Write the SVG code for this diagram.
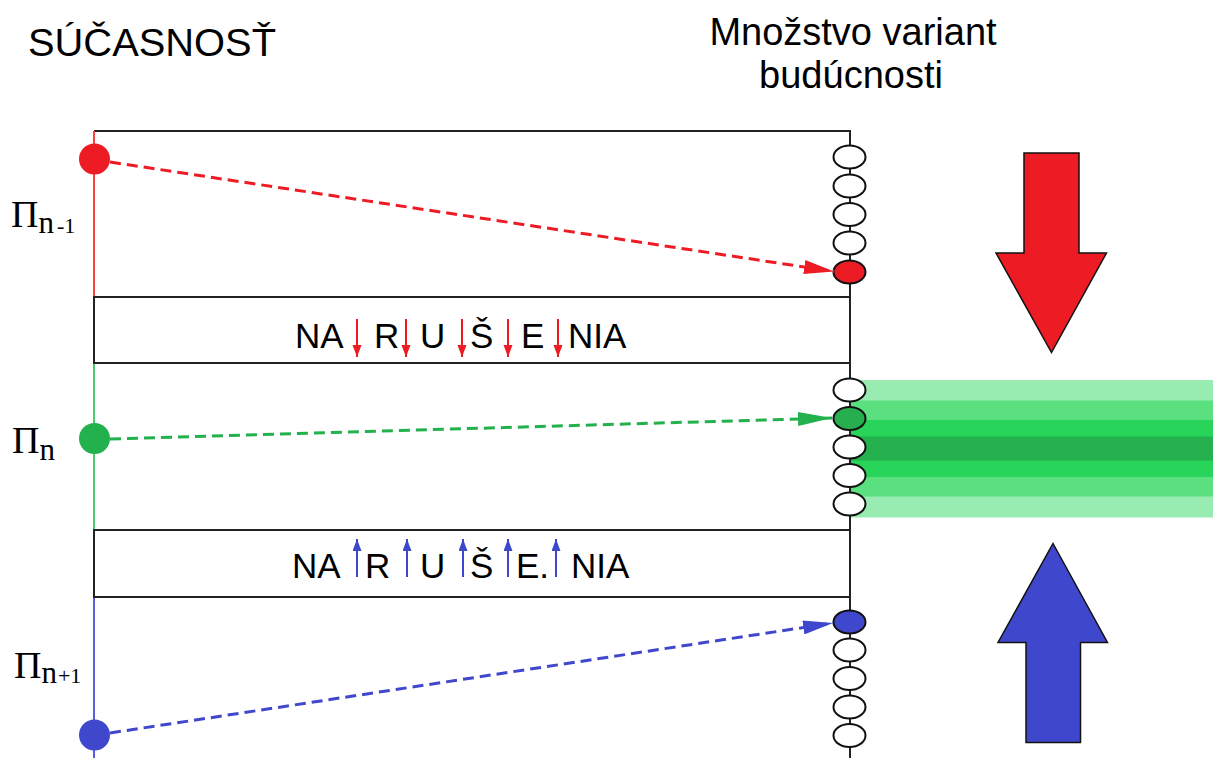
<svg xmlns="http://www.w3.org/2000/svg" width="1213" height="758" viewBox="0 0 1213 758">
<style>
.sans{font-family:"Liberation Sans",Arial,sans-serif;fill:#000}
.serif{font-family:"Liberation Serif","Times New Roman",serif;fill:#000}
.frame{fill:none;stroke:#222;stroke-width:2}
.ell{fill:#fff;stroke:#111;stroke-width:2}
.dash{fill:none;stroke-width:3;stroke-dasharray:11 6}
.big{stroke:#111;stroke-width:1.5}
.sr{stroke:#ED1C24;stroke-width:2}
.sb{stroke:#3F48CC;stroke-width:2}
</style>
<defs>
<marker id="hr" markerUnits="userSpaceOnUse" markerWidth="32" markerHeight="14" refX="30" refY="7" orient="auto"><path d="M0,0 L30,7 L0,14 Z" fill="#ED1C24"/></marker>
<marker id="hg" markerUnits="userSpaceOnUse" markerWidth="36" markerHeight="14" refX="34" refY="7" orient="auto"><path d="M0,0 L34,7 L0,14 Z" fill="#22B14C"/></marker>
<marker id="hb" markerUnits="userSpaceOnUse" markerWidth="32" markerHeight="14" refX="30" refY="7" orient="auto"><path d="M0,0 L30,7 L0,14 Z" fill="#3F48CC"/></marker>
<marker id="sr" markerUnits="userSpaceOnUse" markerWidth="10" markerHeight="10" refX="12" refY="4.5" orient="auto"><path d="M0,0 L12,4.5 L0,9 Z" fill="#ED1C24"/></marker>
<marker id="sb" markerUnits="userSpaceOnUse" markerWidth="10" markerHeight="10" refX="12" refY="4.5" orient="auto"><path d="M0,0 L12,4.5 L0,9 Z" fill="#3F48CC"/></marker>
</defs>

<g id="titles">
<text class="sans" x="28" y="56" font-size="38" textLength="248" lengthAdjust="spacingAndGlyphs">SÚČASNOSŤ</text>
<text class="sans" x="853" y="45" font-size="38" text-anchor="middle">Množstvo variant</text>
<text class="sans" x="851" y="88" font-size="38" text-anchor="middle">budúcnosti</text>
</g>

<g id="bands">
<rect x="851" y="380" width="362" height="21" fill="#98EBB1"/>
<rect x="851" y="400.5" width="362" height="20" fill="#5AE07F"/>
<rect x="851" y="420" width="362" height="17" fill="#29D45A"/>
<rect x="851" y="436.5" width="362" height="24.5" fill="#24B14E"/>
<rect x="851" y="460.5" width="362" height="17" fill="#29D45A"/>
<rect x="851" y="477" width="362" height="20" fill="#5AE07F"/>
<rect x="851" y="496.5" width="362" height="21" fill="#98EBB1"/>
</g>

<g id="frame">
<line class="frame" x1="94" y1="131" x2="851" y2="131"/>
<line class="frame" x1="850" y1="131" x2="850" y2="758"/>
<line x1="94" y1="131" x2="94" y2="297" stroke="#FF4040" stroke-width="2"/>
<line x1="94" y1="363" x2="94" y2="530" stroke="#4CCB6B" stroke-width="2"/>
<line x1="94" y1="597" x2="94" y2="758" stroke="#5A5FE0" stroke-width="2"/>
</g>

<g id="box1">
<rect class="frame" x="94" y="297" width="756" height="66" fill="#fff"/>
<text class="sans" font-size="35" y="348"><tspan x="295">NA</tspan><tspan x="374">R</tspan><tspan x="420">U</tspan><tspan x="470">Š</tspan><tspan x="521">E</tspan><tspan x="568">NIA</tspan></text>
<line class="sr" x1="357" y1="319" x2="357" y2="357" marker-end="url(#sr)"/>
<line class="sr" x1="406" y1="319" x2="406" y2="357" marker-end="url(#sr)"/>
<line class="sr" x1="462" y1="319" x2="462" y2="357" marker-end="url(#sr)"/>
<line class="sr" x1="508" y1="319" x2="508" y2="357" marker-end="url(#sr)"/>
<line class="sr" x1="558" y1="319" x2="558" y2="357" marker-end="url(#sr)"/>
</g>

<g id="box2">
<rect class="frame" x="94" y="530" width="756" height="67" fill="#fff"/>
<text class="sans" font-size="35" y="578"><tspan x="292">NA</tspan><tspan x="365">R</tspan><tspan x="420">U</tspan><tspan x="470">Š</tspan><tspan x="516">E.</tspan><tspan x="571">NIA</tspan></text>
<line class="sb" x1="357" y1="577" x2="357" y2="539" marker-end="url(#sb)"/>
<line class="sb" x1="407" y1="577" x2="407" y2="539" marker-end="url(#sb)"/>
<line class="sb" x1="463" y1="577" x2="463" y2="539" marker-end="url(#sb)"/>
<line class="sb" x1="508" y1="577" x2="508" y2="539" marker-end="url(#sb)"/>
<line class="sb" x1="556" y1="577" x2="556" y2="539" marker-end="url(#sb)"/>
</g>

<g id="labels">
<text class="serif" x="11" y="227" font-size="38">Π<tspan font-size="31" dy="6">n</tspan><tspan font-size="22" dx="3">-1</tspan></text>
<text class="serif" x="12" y="453" font-size="38">Π<tspan font-size="31" dy="7">n</tspan></text>
<text class="serif" x="14" y="678" font-size="38">Π<tspan font-size="31" dy="5">n</tspan><tspan font-size="22" dx="1">+1</tspan></text>
</g>

<g id="dots">
<circle cx="94.5" cy="159" r="15.5" fill="#ED1C24"/>
<circle cx="94.5" cy="438.5" r="15.5" fill="#22B14C"/>
<circle cx="94.5" cy="735" r="15.5" fill="#3F48CC"/>
</g>

<g id="variants-top">
<ellipse class="ell" cx="849.5" cy="157" rx="16" ry="11.5"/>
<ellipse class="ell" cx="849.5" cy="186" rx="16" ry="11.5"/>
<ellipse class="ell" cx="849.5" cy="214.5" rx="16" ry="11.5"/>
<ellipse class="ell" cx="849.5" cy="243" rx="16" ry="11.5"/>
<ellipse class="ell" cx="849.5" cy="272" rx="16" ry="11.5" fill="#ED1C24" style="fill:#ED1C24"/>
</g>
<g id="variants-mid">
<ellipse class="ell" cx="849.5" cy="390" rx="16" ry="11.5"/>
<ellipse class="ell" cx="849.5" cy="418.5" rx="16" ry="11.5" style="fill:#27AE4F"/>
<ellipse class="ell" cx="849.5" cy="447" rx="16" ry="11.5"/>
<ellipse class="ell" cx="849.5" cy="475.5" rx="16" ry="11.5"/>
<ellipse class="ell" cx="849.5" cy="504" rx="16" ry="11.5"/>
</g>
<g id="variants-bottom">
<ellipse class="ell" cx="849.5" cy="622" rx="16" ry="11.5" style="fill:#3F48CC"/>
<ellipse class="ell" cx="849.5" cy="650" rx="16" ry="11.5"/>
<ellipse class="ell" cx="849.5" cy="678.5" rx="16" ry="11.5"/>
<ellipse class="ell" cx="849.5" cy="707" rx="16" ry="11.5"/>
<ellipse class="ell" cx="849.5" cy="735.5" rx="16" ry="11.5"/>
</g>

<g id="connectors">
<line class="dash" x1="110" y1="162" x2="834" y2="271.5" stroke="#ED1C24" marker-end="url(#hr)"/>
<line class="dash" x1="110" y1="439" x2="832" y2="418" stroke="#22B14C" marker-end="url(#hg)"/>
<line class="dash" x1="110" y1="733" x2="833" y2="623" stroke="#3F48CC" marker-end="url(#hb)"/>
</g>

<g id="arrow-down">
<polygon class="big" fill="#ED1C24" points="1024,153 1079,153 1079,253 1106.5,253 1051.5,352.5 996,253 1024,253"/>
</g>
<g id="arrow-up">
<polygon class="big" fill="#3F48CC" points="1053,543.5 1107.5,642.5 1080.5,642.5 1080.5,742.5 1026,742.5 1026,642.5 998,642.5"/>
</g>
</svg>
